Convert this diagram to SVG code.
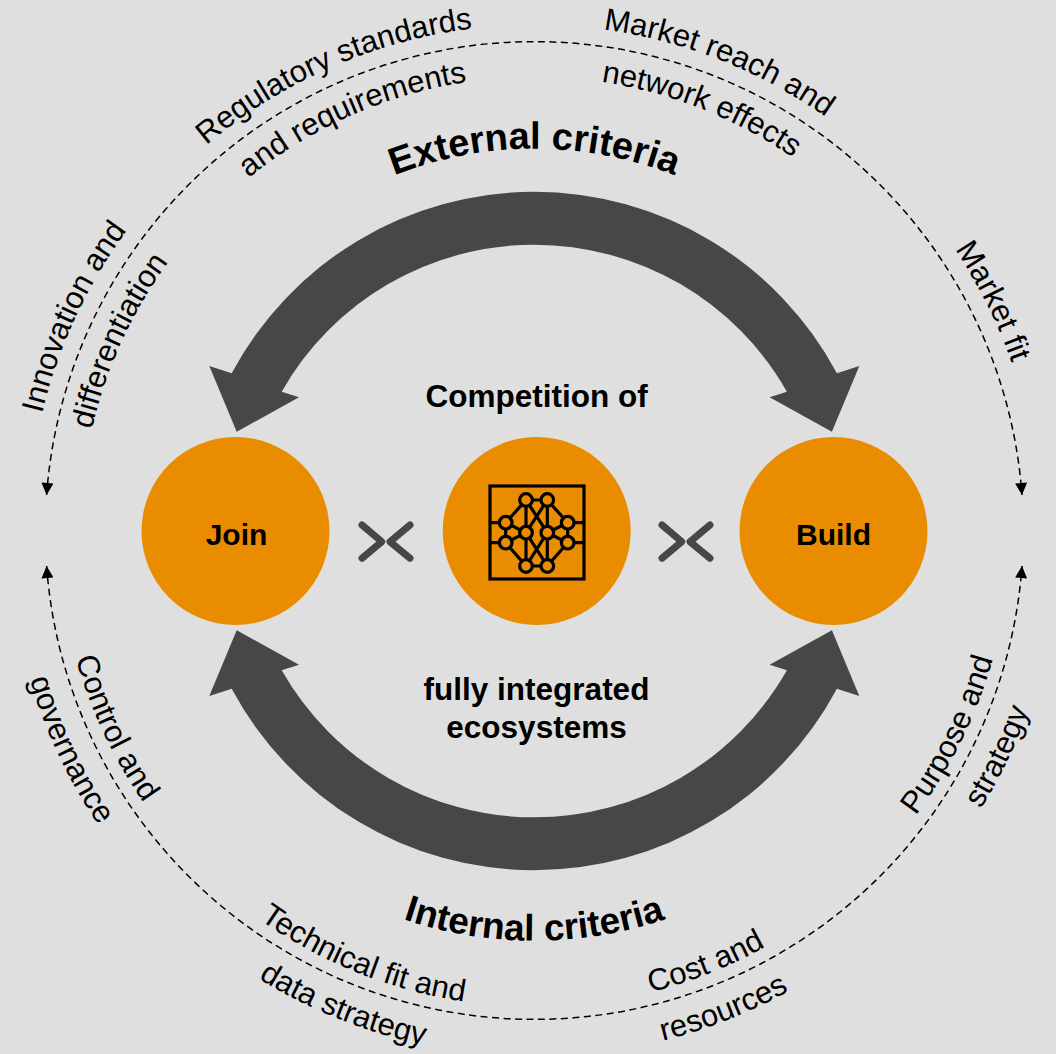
<svg xmlns="http://www.w3.org/2000/svg" width="1056" height="1054" viewBox="0 0 1056 1054">
<style>
.lbl{font-family:"Liberation Sans",Arial,sans-serif;font-size:31px;fill:#000}
.bold{font-family:"Liberation Sans",Arial,sans-serif;font-weight:bold;fill:#000}
.crit{font-size:38px}
.node{fill:#EA8C00}
.big{fill:#474747}
.chev{fill:none;stroke:#474747;stroke-width:7;stroke-linecap:round;stroke-linejoin:round}
.dash{fill:none;stroke:#000;stroke-width:1.5;stroke-dasharray:7 4.5}
.icon{fill:none;stroke:#000;stroke-width:3.2}
.icon circle{fill:#EA8C00}
</style>
<defs>
<marker id="ah" viewBox="0 0 10 10" refX="10" refY="5" markerWidth="14" markerHeight="12" markerUnits="userSpaceOnUse" orient="auto-start-reverse">
<path d="M0,0 L10,5 L0,10 Z" fill="#000"/>
</marker>
<path id="topOuter" d="M28.3 530.7 A506 506 0 0 1 1040.3 530.7"/>
<path id="topInner" d="M80.3 530.7 A454 454 0 0 1 988.3 530.7"/>
<path id="botInner" d="M58.3 530.7 A476 476 0 0 0 1010.3 530.7"/>
<path id="botOuter" d="M8.3 530.7 A526 526 0 0 0 1060.3 530.7"/>
<path id="extPath" d="M152.3 530.7 A382 382 0 0 1 916.3 530.7"/>
<path id="intPath" d="M124.3 530.7 A410 410 0 0 0 944.3 530.7"/>
</defs>
<rect x="0" y="0" width="1056" height="1054" fill="#dfdfdf"/>

<g id="connectors">
<path class="dash" d="M46.6 495 A489 489 0 0 1 1022 495" marker-start="url(#ah)" marker-end="url(#ah)"/>
<path class="dash" d="M46.6 566 A489 489 0 0 0 1022 566" marker-start="url(#ah)" marker-end="url(#ah)"/>
<path class="big" d="M209.3 366 L236.7 431.7 L299 397.3 L281.7 391.7 A290.5 290.5 0 0 1 786.9 391.7 L769.6 397.3 L831.9 431.7 L859.3 366 L836.9 373.3 A343 343 0 0 0 231.7 373.3 Z"/>
<path class="big" d="M209.3 696 L236.7 630.3 L299 664.7 L281.7 670.3 A290.5 290.5 0 0 0 786.9 670.3 L769.6 664.7 L831.9 630.3 L859.3 696 L836.9 688.7 A343 343 0 0 1 231.7 688.7 Z"/>
<polyline class="chev" points="362,525 381.7,541.7 362,558.3"/>
<polyline class="chev" points="410,525 390,541.7 410,558.3"/>
<polyline class="chev" points="662,525 681.7,541.7 662,558.3"/>
<polyline class="chev" points="710,525 690,541.7 710,558.3"/>
</g>

<g id="join">
<circle class="node" cx="235.5" cy="531" r="94"/>
<text class="bold" x="236.5" y="545" font-size="30" text-anchor="middle">Join</text>
</g>

<g id="build">
<circle class="node" cx="833.5" cy="531" r="94"/>
<text class="bold" x="833.5" y="545" font-size="30" text-anchor="middle">Build</text>
</g>

<g id="ecosystem">
<circle class="node" cx="536.7" cy="531" r="94"/>
<g class="icon">
<rect x="490" y="486" width="94" height="93"/>
<path d="M490 522.7 H499.5 M490 542.7 H499.5 M574 522.7 H584 M574 542.7 H584"/>
<path d="M526 500 L547.3 500 M526 500 L505.7 522.7 M547.3 500 L567.7 522.7 M526 500 L526 532.7 M547.3 500 L547.3 532.7 M526 500 L547.3 532.7 M547.3 500 L526 532.7 M505.7 522.7 L526 532.7 M567.7 522.7 L547.3 532.7 M505.7 522.7 L505.7 542.7 M567.7 522.7 L567.7 542.7 M505.7 542.7 L526 532.7 M567.7 542.7 L547.3 532.7 M526 532.7 L526 566 M547.3 532.7 L547.3 566 M526 532.7 L547.3 566 M547.3 532.7 L526 566 M505.7 542.7 L526 566 M567.7 542.7 L547.3 566 M526 566 L547.3 566"/>
<circle cx="526" cy="500" r="6.3"/>
<circle cx="547.3" cy="500" r="6.3"/>
<circle cx="505.7" cy="522.7" r="6.3"/>
<circle cx="567.7" cy="522.7" r="6.3"/>
<circle cx="526" cy="532.7" r="6.3"/>
<circle cx="547.3" cy="532.7" r="6.3"/>
<circle cx="505.7" cy="542.7" r="6.3"/>
<circle cx="567.7" cy="542.7" r="6.3"/>
<circle cx="526" cy="566" r="6.3"/>
<circle cx="547.3" cy="566" r="6.3"/>
</g>
</g>

<g id="center-text">
<text class="bold" x="536.7" y="406.5" font-size="31.5" text-anchor="middle">Competition of</text>
<text class="bold" x="536.5" y="700" font-size="31.5" text-anchor="middle">fully integrated</text>
<text class="bold" x="536.5" y="737.5" font-size="31.5" text-anchor="middle">ecosystems</text>
</g>

<g id="criteria">
<text class="bold crit" text-anchor="middle"><textPath href="#extPath" startOffset="50%">External criteria</textPath></text>
<text class="bold" font-size="37" text-anchor="middle"><textPath href="#intPath" startOffset="50%">Internal criteria</textPath></text>
</g>

<g id="labels" class="lbl" text-anchor="middle">
<text class="lbl"><textPath href="#topOuter" startOffset="219.9">Innovation and</textPath></text>
<text class="lbl"><textPath href="#topInner" startOffset="194.9">differentiation</textPath></text>
<text class="lbl"><textPath href="#topOuter" startOffset="585.5">Regulatory standards</textPath></text>
<text class="lbl"><textPath href="#topInner" startOffset="524.6">and requirements</textPath></text>
<text class="lbl"><textPath href="#topOuter" startOffset="984.7">Market reach and</textPath></text>
<text class="lbl"><textPath href="#topInner" startOffset="883.9">network effects</textPath></text>
<text class="lbl"><textPath href="#topOuter" startOffset="1354.7">Market fit</textPath></text>
<text class="lbl"><textPath href="#botInner" startOffset="209.4">Control and</textPath></text>
<text class="lbl"><textPath href="#botOuter" startOffset="231.8">governance</textPath></text>
<text class="lbl"><textPath href="#botInner" startOffset="565.8">Technical fit and</textPath></text>
<text class="lbl"><textPath href="#botOuter" startOffset="625.2">data strategy</textPath></text>
<text class="lbl"><textPath href="#botInner" startOffset="927.2">Cost and</textPath></text>
<text class="lbl"><textPath href="#botOuter" startOffset="1024.1">resources</textPath></text>
<text class="lbl"><textPath href="#botInner" startOffset="1277.7">Purpose and</textPath></text>
<text class="lbl"><textPath href="#botOuter" startOffset="1414.2">strategy</textPath></text>
</g>
</svg>
